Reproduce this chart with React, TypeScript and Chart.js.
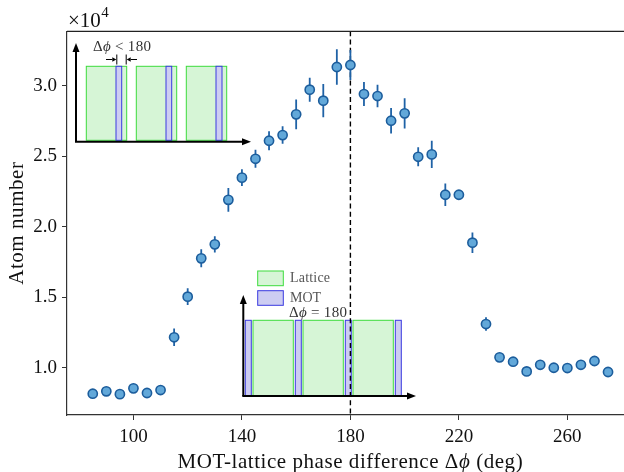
import React, { useEffect, useRef } from 'react';
import { Chart, registerables } from 'chart.js';

Chart.register(...registerables);

// ---- data ----
const phaseDeg = [85, 90, 95, 100, 105, 110, 115, 120, 125, 130, 135, 140, 145, 150, 155, 160, 165, 170, 175, 180, 185, 190, 195, 200, 205, 210, 215, 220, 225, 230, 235, 240, 245, 250, 255, 260, 265, 270, 275];
const atomNumber = [8160, 8330, 8130, 8540, 8210, 8420, 12160, 15040, 17760, 18750, 21910, 23480, 24820, 26100, 26500, 27970, 29720, 28940, 31330, 31470, 29410, 29270, 27520, 28040, 24960, 25130, 22270, 22270, 18870, 13100, 10740, 10430, 9740, 10210, 10000, 9980, 10210, 10480, 9700];
const atomError = [200, 250, 200, 250, 200, 250, 620, 590, 640, 570, 840, 590, 640, 670, 620, 1060, 850, 1180, 1260, 1060, 850, 800, 900, 1080, 670, 970, 790, 250, 730, 480, 200, 200, 200, 200, 250, 200, 200, 200, 200];
const xTickValues = [100, 140, 180, 220, 260];
const yTickValues = [10000, 15000, 20000, 25000, 30000];
const xRange = [75.5, 284.5];
const yRange = [6650, 33860];
const markerPhase = 180;
const yExponent = 4;
const xTitleParts: [string, boolean][] = [['MOT-lattice phase difference Δ', false], ['ϕ', true], [' (deg)', false]];
const yTitle = 'Atom number';

const SERIF = '"Liberation Serif", "DejaVu Serif", serif';

function arrow(ctx: CanvasRenderingContext2D, x1: number, y1: number, x2: number, y2: number, head: number, hw: number, lw: number) {
  const dx = x2 - x1, dy = y2 - y1;
  const len = Math.hypot(dx, dy);
  const ux = dx / len, uy = dy / len;
  const bx = x2 - ux * head, by = y2 - uy * head;
  ctx.save();
  ctx.strokeStyle = '#000';
  ctx.fillStyle = '#000';
  ctx.lineWidth = lw;
  ctx.beginPath();
  ctx.moveTo(x1, y1);
  ctx.lineTo(bx, by);
  ctx.stroke();
  ctx.beginPath();
  ctx.moveTo(x2, y2);
  ctx.lineTo(bx - uy * hw, by + ux * hw);
  ctx.lineTo(bx + uy * hw, by - ux * hw);
  ctx.closePath();
  ctx.fill();
  ctx.restore();
}

function rect(ctx: CanvasRenderingContext2D, x1: number, x2: number, y1: number, y2: number, fill: string, stroke: string) {
  ctx.save();
  ctx.fillStyle = fill;
  ctx.fillRect(x1, y1, x2 - x1, y2 - y1);
  ctx.strokeStyle = stroke;
  ctx.lineWidth = 1;
  ctx.strokeRect(x1, y1, x2 - x1, y2 - y1);
  ctx.restore();
}

function measureRich(ctx: CanvasRenderingContext2D, parts: [string, boolean][], size: number) {
  let w = 0;
  for (const [t, it] of parts) {
    ctx.font = `${it ? 'italic ' : ''}${size}px ${SERIF}`;
    w += ctx.measureText(t).width;
  }
  return w;
}

function richText(ctx: CanvasRenderingContext2D, parts: [string, boolean][], x: number, y: number, size: number, color: string, spacing = 0) {
  ctx.save();
  (ctx as any).letterSpacing = `${spacing}px`;
  ctx.fillStyle = color;
  ctx.textBaseline = 'middle';
  ctx.textAlign = 'left';
  let cx = x;
  for (const [t, it] of parts) {
    ctx.font = `${it ? 'italic ' : ''}${size}px ${SERIF}`;
    ctx.fillText(t, cx, y);
    cx += ctx.measureText(t).width;
  }
  ctx.restore();
}

const GREEN_FILL = '#d6f5d6';
const GREEN_EDGE = '#3ddc3d';
const BLUE_FILL = '#cdcdf2';
const BLUE_EDGE = '#3a3ae0';

const decorPlugin = {
  id: 'decor',
  beforeDatasetsDraw(chart: any) {
    const ctx: CanvasRenderingContext2D = chart.ctx;
    const xs = chart.scales.x, ys = chart.scales.y;
    const area = chart.chartArea;

    // --- upper-left inset (Δϕ < 180) ---
    const uTop = 66.3, uBot = 140.3;
    [[86.3, 126.7], [136.3, 176.7], [186.3, 226.7]].forEach(([a, b]) => rect(ctx, a, b, uTop, uBot, GREEN_FILL, GREEN_EDGE));
    [[116, 121.7], [166, 171.7], [216, 222]].forEach(([a, b]) => rect(ctx, a, b, uTop, uBot, BLUE_FILL, BLUE_EDGE));
    arrow(ctx, 76, 141.7, 76, 43, 9, 3.5, 2);
    arrow(ctx, 75, 141.7, 251, 141.7, 9, 3.5, 2);
    arrow(ctx, 106, 59.5, 116.3, 59.5, 4, 2.2, 1);
    arrow(ctx, 137, 59.5, 126.7, 59.5, 4, 2.2, 1);
    ctx.save();
    ctx.strokeStyle = '#000';
    ctx.lineWidth = 1;
    ctx.beginPath();
    ctx.moveTo(116.8, 54.5); ctx.lineTo(116.8, 64.5);
    ctx.moveTo(126.2, 54.5); ctx.lineTo(126.2, 64.5);
    ctx.stroke();
    ctx.restore();
    richText(ctx, [['Δ', false], ['ϕ', true], [' < 180', false]], 93, 47.5, 15, '#333', 0.3);

    // --- lower inset (Δϕ = 180) ---
    const lTop = 320.3, lBot = 395.7;
    [[253, 293.3], [303, 343.3], [353, 393.3]].forEach(([a, b]) => rect(ctx, a, b, lTop, lBot, GREEN_FILL, GREEN_EDGE));
    [[245.3, 251.3], [295.3, 301.3], [345.3, 351.3], [395.3, 401.3]].forEach(([a, b]) => rect(ctx, a, b, lTop, lBot, BLUE_FILL, BLUE_EDGE));
    arrow(ctx, 243.3, 396, 243.3, 295, 9, 3.5, 2);
    arrow(ctx, 242.3, 396, 416, 396, 9, 3.5, 2);
    rect(ctx, 257.7, 283.3, 271, 285.7, GREEN_FILL, GREEN_EDGE);
    rect(ctx, 257.7, 283.3, 290.7, 305.3, BLUE_FILL, BLUE_EDGE);
    richText(ctx, [['Lattice', false]], 290, 278.5, 14, '#555', 0.2);
    richText(ctx, [['MOT', false]], 290, 298.3, 14, '#555');
    richText(ctx, [['Δ', false], ['ϕ', true], [' = 180', false]], 289, 313, 15, '#333', 0.3);

    // --- dashed reference line ---
    const px = xs.getPixelForValue(markerPhase);
    ctx.save();
    ctx.strokeStyle = '#000';
    ctx.lineWidth = 1.4;
    ctx.setLineDash([5, 3.2]);
    ctx.beginPath();
    ctx.moveTo(px, area.top);
    ctx.lineTo(px, area.bottom);
    ctx.stroke();
    ctx.restore();

    // --- error bars ---
    ctx.save();
    ctx.strokeStyle = '#1f62a6';
    ctx.lineWidth = 1.8;
    ctx.beginPath();
    phaseDeg.forEach((p, i) => {
      const x = xs.getPixelForValue(p);
      ctx.moveTo(x, ys.getPixelForValue(atomNumber[i] - atomError[i]));
      ctx.lineTo(x, ys.getPixelForValue(atomNumber[i] + atomError[i]));
    });
    ctx.stroke();
    ctx.restore();
  },
  afterDraw(chart: any) {
    const ctx: CanvasRenderingContext2D = chart.ctx;
    const area = chart.chartArea;
    ctx.save();
    ctx.strokeStyle = '#222';
    ctx.lineWidth = 1.2;
    ctx.beginPath();
    ctx.moveTo(area.left, area.top);
    ctx.lineTo(area.right, area.top);
    ctx.lineTo(area.right, area.bottom);
    ctx.stroke();
    ctx.restore();

    // axis titles
    const titleSize = 21;
    const spacing = 0.55;
    const nChars = xTitleParts.reduce((n, [t]) => n + t.length, 0);
    const tw = measureRich(ctx, xTitleParts, titleSize) + spacing * nChars;
    richText(ctx, xTitleParts, (area.left + area.right) / 2 - tw / 2, 462, titleSize, '#111', spacing);

    ctx.save();
    (ctx as any).letterSpacing = `${spacing}px`;
    ctx.translate(17.5, (area.top + area.bottom) / 2);
    ctx.rotate(-Math.PI / 2);
    ctx.font = `${titleSize}px ${SERIF}`;
    ctx.fillStyle = '#111';
    ctx.textAlign = 'center';
    ctx.textBaseline = 'middle';
    ctx.fillText(yTitle, 0, 0);
    ctx.restore();

    // offset text ×10^4
    ctx.save();
    ctx.fillStyle = '#111';
    ctx.textBaseline = 'alphabetic';
    ctx.font = `21px ${SERIF}`;
    ctx.fillText('×10', 68, 27);
    const w = ctx.measureText('×10').width;
    ctx.font = `15px ${SERIF}`;
    ctx.fillText(String(yExponent), 68 + w + 0.5, 17);
    ctx.restore();
  },
};

export default function App() {
  const ref = useRef<HTMLCanvasElement | null>(null);
  useEffect(() => {
    if (!ref.current) return;
    const chart = new Chart(ref.current, {
      type: 'scatter',
      data: {
        datasets: [
          {
            label: 'Atom number',
            data: phaseDeg.map((p, i) => ({ x: p, y: atomNumber[i] })),
            pointRadius: 4.6,
            pointBackgroundColor: '#62a8d9',
            pointBorderColor: '#1c5d9c',
            pointBorderWidth: 1.6,
            showLine: false,
          },
        ],
      },
      options: {
        responsive: false,
        animation: false,
        devicePixelRatio: 1,
        layout: { padding: { left: 0, top: 31.3, right: 5.4, bottom: 0 } },
        plugins: { legend: { display: false }, tooltip: { enabled: false } },
        scales: {
          x: {
            type: 'linear',
            min: xRange[0],
            max: xRange[1],
            afterFit: (s: any) => { s.height = 57; },
            afterBuildTicks: (s: any) => { s.ticks = xTickValues.map((v) => ({ value: v })); },
            grid: { drawOnChartArea: false, drawTicks: true, tickLength: 5, tickColor: '#333', tickWidth: 1 },
            border: { display: true, color: '#333', width: 1.2 },
            ticks: { color: '#111', font: { family: SERIF, size: 19 }, padding: 6, maxRotation: 0, callback: (v: any) => String(v) },
            title: { display: false },
          },
          y: {
            type: 'linear',
            min: yRange[0],
            max: yRange[1],
            afterFit: (s: any) => { s.width = 67; },
            afterBuildTicks: (s: any) => { s.ticks = yTickValues.map((v) => ({ value: v })); },
            grid: { drawOnChartArea: false, drawTicks: true, tickLength: 5, tickColor: '#333', tickWidth: 1 },
            border: { display: true, color: '#333', width: 1.2 },
            ticks: { color: '#111', font: { family: SERIF, size: 19 }, padding: 5, callback: (v: any) => (Number(v) / Math.pow(10, yExponent)).toFixed(1) },
            title: { display: false },
          },
        },
      },
      plugins: [decorPlugin],
    });
    return () => chart.destroy();
  }, []);
  return (
    <div style={{ position: 'fixed', left: 0, top: 0, width: 624, height: 472, overflow: 'hidden', background: '#fff' }}>
      <canvas ref={ref} width={640} height={472} style={{ display: 'block' }} />
    </div>
  );
}
